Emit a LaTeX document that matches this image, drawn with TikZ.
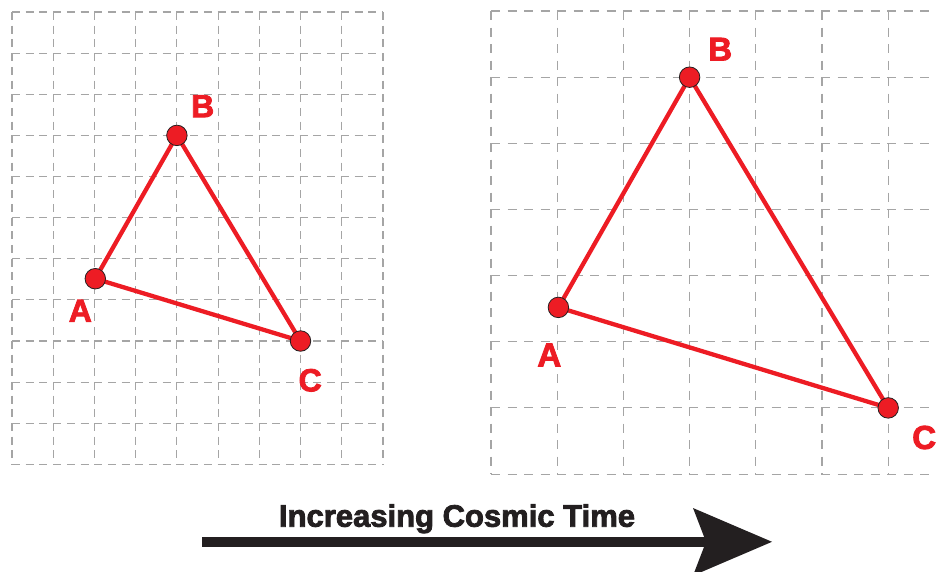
\documentclass[tikz,border=0pt]{standalone}
\usepackage{fontspec}
\newfontfamily\heavyfont{Liberation Sans}[BoldFeatures={FakeBold=2.6}]
\definecolor{tri}{HTML}{ED1C24}
\definecolor{ink}{HTML}{231F20}
\definecolor{gridgray}{RGB}{165,165,165}
\begin{document}
\begin{tikzpicture}[x=1pt,y=-1pt,
  gridA/.style={draw=gridgray,line width=1.1pt,dash pattern=on 8pt off 5.7pt},
  gridB/.style={draw=gridgray,line width=1.1pt,dash pattern=on 9pt off 7.5pt},
  edge/.style={draw=tri,line width=4.3pt},
  dot/.style={circle,fill=tri,draw=ink,line width=0.8pt,minimum size=20.5pt,inner sep=0pt},
  lab/.style={text=tri,inner sep=0pt,anchor=center,font=\heavyfont\bfseries\fontsize{32}{32}\selectfont},
  labR/.style={lab,font=\heavyfont\bfseries\fontsize{33}{33}\selectfont},
  title/.style={text=ink,inner sep=0pt,anchor=base,font=\heavyfont\bfseries\fontsize{31}{31}\selectfont}]
\useasboundingbox (0,0) rectangle (943,571);
\clip (0,0) rectangle (943,571);
% left grid
\foreach \i in {0,...,9}{
  \draw[gridA] ({12+\i*41.22},12) -- ({12+\i*41.22},464.3);
}
\foreach \j in {0,...,11}{
  \draw[gridA] (12,{12+\j*41.12}) -- (383,{12+\j*41.12});
}
% right grid
\foreach \i in {0,...,6}{
  \draw[gridB] ({491+\i*66.2},11) -- ({491+\i*66.2},474);
}
\foreach \j in {0,...,7}{
  \draw[gridB] (491,{11+\j*66.15}) -- (936,{11+\j*66.15});
}
% left triangle
\coordinate (lA) at (95.3,278.7);
\coordinate (lB) at (176.9,135.4);
\coordinate (lC) at (300.5,341);
\draw[edge] (lA) -- (lB);
\draw[edge] (lB) -- (lC);
\draw[edge] (lC) -- (lA);
\node[dot] (dlA) at (lA) {};
\node[dot] (dlB) at (lB) {};
\node[dot] (dlC) at (lC) {};
\node[lab] (tlA) at (80.3,310.8) {A};
\node[lab] (tlB) at (202.7,106.2) {B};
\node[lab] (tlC) at (310.2,380.3) {C};
% right triangle
\coordinate (rA) at (558.4,307.4);
\coordinate (rB) at (689.6,77.2);
\coordinate (rC) at (888.2,407.9);
\draw[edge] (rA) -- (rB);
\draw[edge] (rB) -- (rC);
\draw[edge] (rC) -- (rA);
\node[dot] (drA) at (rA) {};
\node[dot] (drB) at (rB) {};
\node[dot] (drC) at (rC) {};
\node[labR] (trA) at (549.3,355) {A};
\node[labR] (trB) at (720.2,49.2) {B};
\node[labR] (trC) at (924.2,437.5) {C};
% time arrow
\coordinate (arrS) at (202,541.8);
\coordinate (arrN) at (706,541.8);
\coordinate (arrT) at (772,541.8);
\draw[ink,line width=9.5pt] (arrS) -- (arrN);
\fill[ink] (arrT) -- (693,508) -- (arrN) -- (693,575.6) -- cycle;
\node[title] (ttl) at (457,526.7) {Increasing Cosmic Time};
\end{tikzpicture}
\end{document}
